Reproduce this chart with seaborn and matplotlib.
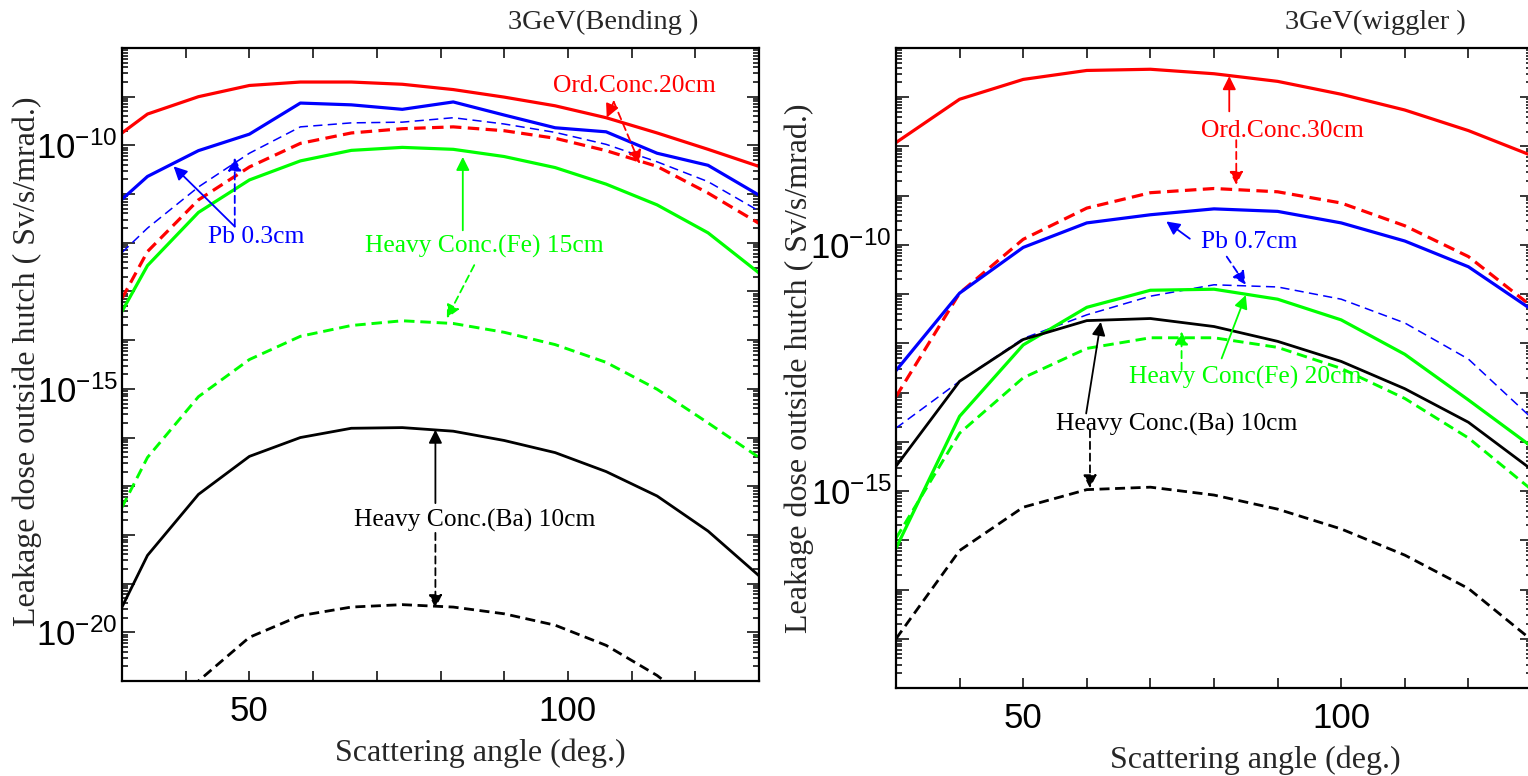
import matplotlib
matplotlib.use("Agg")
import matplotlib.pyplot as plt
import matplotlib.ticker as mticker
import seaborn as sns
import numpy as np
import pandas as pd

# ---------------- data ----------------
angle_bend = [30, 34, 42, 50, 58, 66, 74, 82, 90, 98, 106, 114, 122, 130]
bend_ord20_wall = [1.8e-10, 4.4e-10, 1.0e-9, 1.7e-9, 2.0e-9, 2.0e-9, 1.8e-9, 1.4e-9, 9.8e-10, 6.5e-10, 3.7e-10, 1.8e-10, 8.3e-11, 3.7e-11]
bend_ord20_roof = [7.2e-14, 6.6e-13, 7.6e-12, 3.6e-11, 1.1e-10, 1.8e-10, 2.2e-10, 2.4e-10, 2.0e-10, 1.4e-10, 7.8e-11, 3.7e-11, 1.05e-11, 2.5e-12]
bend_pb03_wall = [7.8e-12, 2.3e-11, 7.8e-11, 1.7e-10, 7.4e-10, 6.8e-10, 5.5e-10, 7.8e-10, 4.2e-10, 2.3e-10, 1.9e-10, 6.9e-11, 3.9e-11, 9.5e-12]
bend_pb03_roof = [6.3e-13, 2.0e-12, 1.4e-11, 6.9e-11, 2.4e-10, 2.9e-10, 3.0e-10, 3.7e-10, 2.75e-10, 1.85e-10, 1.05e-10, 4.6e-11, 1.8e-11, 4.5e-12]
bend_fe15_wall = [3.9e-14, 3.4e-13, 4.2e-12, 1.95e-11, 4.8e-11, 7.9e-11, 9.1e-11, 8.3e-11, 5.9e-11, 3.5e-11, 1.6e-11, 6.0e-12, 1.6e-12, 2.4e-13]
bend_fe15_roof = [3.7e-18, 3.9e-17, 6.9e-16, 4.0e-15, 1.2e-14, 2.0e-14, 2.5e-14, 2.2e-14, 1.45e-14, 8.1e-15, 3.5e-15, 9.8e-16, 2.0e-16, 3.9e-17]
bend_ba10_wall = [3.3e-20, 3.8e-19, 6.8e-18, 4.1e-17, 1.0e-16, 1.55e-16, 1.6e-16, 1.35e-16, 8.7e-17, 4.9e-17, 2.0e-17, 6.3e-18, 1.2e-18, 1.45e-19]
bend_ba10_roof = [5e-24, 4e-23, 1.0e-21, 7.9e-21, 2.2e-20, 3.3e-20, 3.7e-20, 3.3e-20, 2.4e-20, 1.4e-20, 5.4e-21, 1.3e-21, 2.0e-22, 2.5e-23]

angle_wig = [30, 40, 50, 60, 70, 80, 90, 100, 110, 120, 130]
wig_ord30_wall = [1.2e-8, 9.1e-8, 2.3e-7, 3.5e-7, 3.7e-7, 3.0e-7, 2.1e-7, 1.15e-7, 5.5e-8, 2.1e-8, 6.5e-9]
wig_ord30_roof = [8.3e-14, 1.05e-11, 1.3e-10, 5.6e-10, 1.15e-9, 1.4e-9, 1.2e-9, 7.1e-10, 2.45e-10, 5.8e-11, 5.6e-12]
wig_pb07_wall = [2.8e-13, 1.05e-11, 8.9e-11, 2.8e-10, 4.1e-10, 5.4e-10, 4.8e-10, 2.8e-10, 1.2e-10, 3.6e-11, 4.8e-12]
wig_pb07_roof = [1.9e-14, 1.7e-13, 1.26e-12, 3.8e-12, 9.1e-12, 1.55e-11, 1.4e-11, 7.9e-12, 2.6e-12, 4.8e-13, 3.0e-14]
wig_fe20_wall = [6.9e-17, 3.3e-14, 9.3e-13, 5.4e-12, 1.2e-11, 1.26e-11, 7.9e-12, 3.0e-12, 6.0e-13, 7.1e-14, 7.9e-15]
wig_fe20_roof = [1.1e-16, 1.5e-14, 2.0e-13, 7.9e-13, 1.3e-12, 1.3e-12, 8.3e-13, 3.1e-13, 7.6e-14, 1.2e-14, 1.05e-15]
wig_ba10_wall = [3.2e-15, 1.7e-13, 1.2e-12, 2.9e-12, 3.2e-12, 2.2e-12, 1.1e-12, 4.3e-13, 1.2e-13, 2.5e-14, 2.7e-15]
wig_ba10_roof = [1.0e-18, 6.2e-17, 4.7e-16, 1.07e-15, 1.2e-15, 8.3e-16, 4.3e-16, 1.7e-16, 5.0e-17, 1.05e-17, 9.3e-19]

titles = ["3GeV(Bending )", "3GeV(wiggler )"]
xlabel = "Scattering angle (deg.)"
ylabel = "Leakage dose outside hutch ( Sv/s/mrad.)"

# ---------------- style ----------------
sns.set_style("ticks")
SANS = ["Liberation Sans", "DejaVu Sans"]
SERIF = ["Liberation Serif", "DejaVu Serif"]
plt.rcParams["font.family"] = SANS
plt.rcParams["mathtext.fontset"] = "custom"
plt.rcParams["mathtext.rm"] = "Liberation Sans"
plt.rcParams["mathtext.it"] = "Liberation Sans:italic"

RED, BLUE, GREEN, BLACK = "#ff0000", "#0000ff", "#00ff00", "#000000"
DASH = (0, (3.6, 2.0))
THIN_DASH = (0, (6.0, 3.5))

fig = plt.figure(figsize=(15.28, 7.76), dpi=100)
axL = fig.add_axes([122 / 1528, 1 - 681 / 776, 637 / 1528, 633 / 776])
axR = fig.add_axes([896 / 1528, 1 - 688 / 776, 636 / 1528, 640 / 776])


def draw(ax, x, y, color, ls, lw):
    df = pd.DataFrame({"angle": x, "dose": y})
    sns.lineplot(data=df, x="angle", y="dose", ax=ax, color=color,
                 linestyle=ls, linewidth=lw, clip_on=True, legend=False)


left_series = [
    (bend_ord20_wall, RED, "-", 2.3), (bend_ord20_roof, RED, DASH, 2.3),
    (bend_pb03_wall, BLUE, "-", 2.3), (bend_pb03_roof, BLUE, THIN_DASH, 1.1),
    (bend_fe15_wall, GREEN, "-", 2.3), (bend_fe15_roof, GREEN, DASH, 2.1),
    (bend_ba10_wall, BLACK, "-", 2.0), (bend_ba10_roof, BLACK, DASH, 2.0),
]
right_series = [
    (wig_ord30_wall, RED, "-", 2.3), (wig_ord30_roof, RED, DASH, 2.3),
    (wig_pb07_wall, BLUE, "-", 2.3), (wig_pb07_roof, BLUE, THIN_DASH, 1.1),
    (wig_fe20_wall, GREEN, "-", 2.3), (wig_fe20_roof, GREEN, DASH, 2.1),
    (wig_ba10_wall, BLACK, "-", 2.0), (wig_ba10_roof, BLACK, DASH, 2.0),
]


def fmt(v, pos):
    e = int(round(np.log10(v)))
    if e % 5 == 0:
        return r"$\mathregular{10^{%d}}$" % e
    return ""


for ax, x, series, ylim in [(axL, angle_bend, left_series, (1e-21, 1e-8)),
                            (axR, angle_wig, right_series, (1e-19, 1e-6))]:
    ax.set_yscale("log")
    for y, c, ls, lw in series:
        draw(ax, x, y, c, ls, lw)
    ax.set_xlim(30, 130)
    ax.set_ylim(*ylim)
    ax.set_xlabel("")
    ax.set_ylabel("")
    ax.xaxis.set_major_locator(mticker.FixedLocator([50, 100]))
    ax.xaxis.set_minor_locator(mticker.MultipleLocator(10))
    ax.yaxis.set_major_locator(mticker.LogLocator(base=10, numticks=40))
    ax.yaxis.set_minor_locator(mticker.LogLocator(base=10, subs=np.arange(2, 10), numticks=40))
    ax.yaxis.set_minor_formatter(mticker.NullFormatter())
    ax.yaxis.set_major_formatter(mticker.FuncFormatter(fmt))
    ax.tick_params(which="both", direction="in", top=True, right=True,
                   width=1.1, colors="black")
    ax.tick_params(axis="x", which="both", length=7, pad=10, labelsize=25)
    ax.tick_params(axis="y", which="major", length=9, pad=3, labelsize=25)
    ax.tick_params(axis="y", which="minor", length=4.5)
    for sp in ax.spines.values():
        sp.set_linewidth(1.6)
        sp.set_color("black")
        sp.set_visible(True)

# ---------------- annotations ----------------
ANN = 18.4


def label(ax, txt, xy, color):
    ax.text(xy[0], xy[1], txt, transform=ax.transAxes, color=color,
            fontsize=ANN, family=SERIF, ha="center", va="center")


def arrow(ax, start, end, color, dashed=False):
    ax.annotate("", xy=end, xytext=start, xycoords="axes fraction",
                textcoords="axes fraction",
                arrowprops=dict(arrowstyle="-|>", color=color, lw=1.3,
                                linestyle=(0, (4, 2.5)) if dashed else "-",
                                mutation_scale=20, shrinkA=0, shrinkB=0))


# left panel
label(axL, "Ord.Conc.20cm", (0.804, 0.940), RED)
arrow(axL, (0.772, 0.915), (0.761, 0.890), RED)
arrow(axL, (0.772, 0.915), (0.813, 0.817), RED, dashed=True)
label(axL, "Pb 0.3cm", (0.210, 0.701), BLUE)
arrow(axL, (0.177, 0.718), (0.081, 0.813), BLUE)
arrow(axL, (0.177, 0.718), (0.177, 0.827), BLUE, dashed=True)
label(axL, "Heavy Conc.(Fe) 15cm", (0.568, 0.687), GREEN)
arrow(axL, (0.535, 0.712), (0.535, 0.828), GREEN)
arrow(axL, (0.553, 0.657), (0.510, 0.573), GREEN, dashed=True)
label(axL, "Heavy Conc.(Ba) 10cm", (0.554, 0.254), BLACK)
arrow(axL, (0.492, 0.281), (0.492, 0.397), BLACK)
arrow(axL, (0.492, 0.234), (0.492, 0.115), BLACK, dashed=True)

# right panel
label(axR, "Ord.Conc.30cm", (0.608, 0.870), RED)
arrow(axR, (0.524, 0.901), (0.524, 0.956), RED)
arrow(axR, (0.535, 0.856), (0.535, 0.786), RED, dashed=True)
label(axR, "Pb 0.7cm", (0.555, 0.697), BLUE)
arrow(axR, (0.462, 0.702), (0.425, 0.729), BLUE)
arrow(axR, (0.520, 0.674), (0.550, 0.630), BLUE, dashed=True)
label(axR, "Heavy Conc(Fe) 20cm", (0.549, 0.486), GREEN)
arrow(axR, (0.512, 0.515), (0.550, 0.614), GREEN)
arrow(axR, (0.449, 0.497), (0.449, 0.557), GREEN, dashed=True)
label(axR, "Heavy Conc.(Ba) 10cm", (0.442, 0.4125), BLACK)
arrow(axR, (0.299, 0.429), (0.322, 0.572), BLACK)
arrow(axR, (0.305, 0.403), (0.305, 0.312), BLACK, dashed=True)

# ---------------- titles and axis labels ----------------
W, H = 1528, 776
fig.text(603 / W, 1 - 22 / H, titles[0], family=SERIF, fontsize=20.5, ha="center", va="center")
fig.text(1375 / W, 1 - 22 / H, titles[1], family=SERIF, fontsize=20.5, ha="center", va="center")
fig.text(480 / W, 1 - 753 / H, xlabel, family=SERIF, fontsize=23, ha="center", va="center")
fig.text(1255 / W, 1 - 760 / H, xlabel, family=SERIF, fontsize=23, ha="center", va="center")
fig.text(27 / W, 1 - 361 / H, ylabel, family=SERIF, fontsize=23, ha="center", va="center", rotation=90)
fig.text(799 / W, 1 - 368 / H, ylabel, family=SERIF, fontsize=23, ha="center", va="center", rotation=90)

fig.savefig("out.png", dpi=100)
